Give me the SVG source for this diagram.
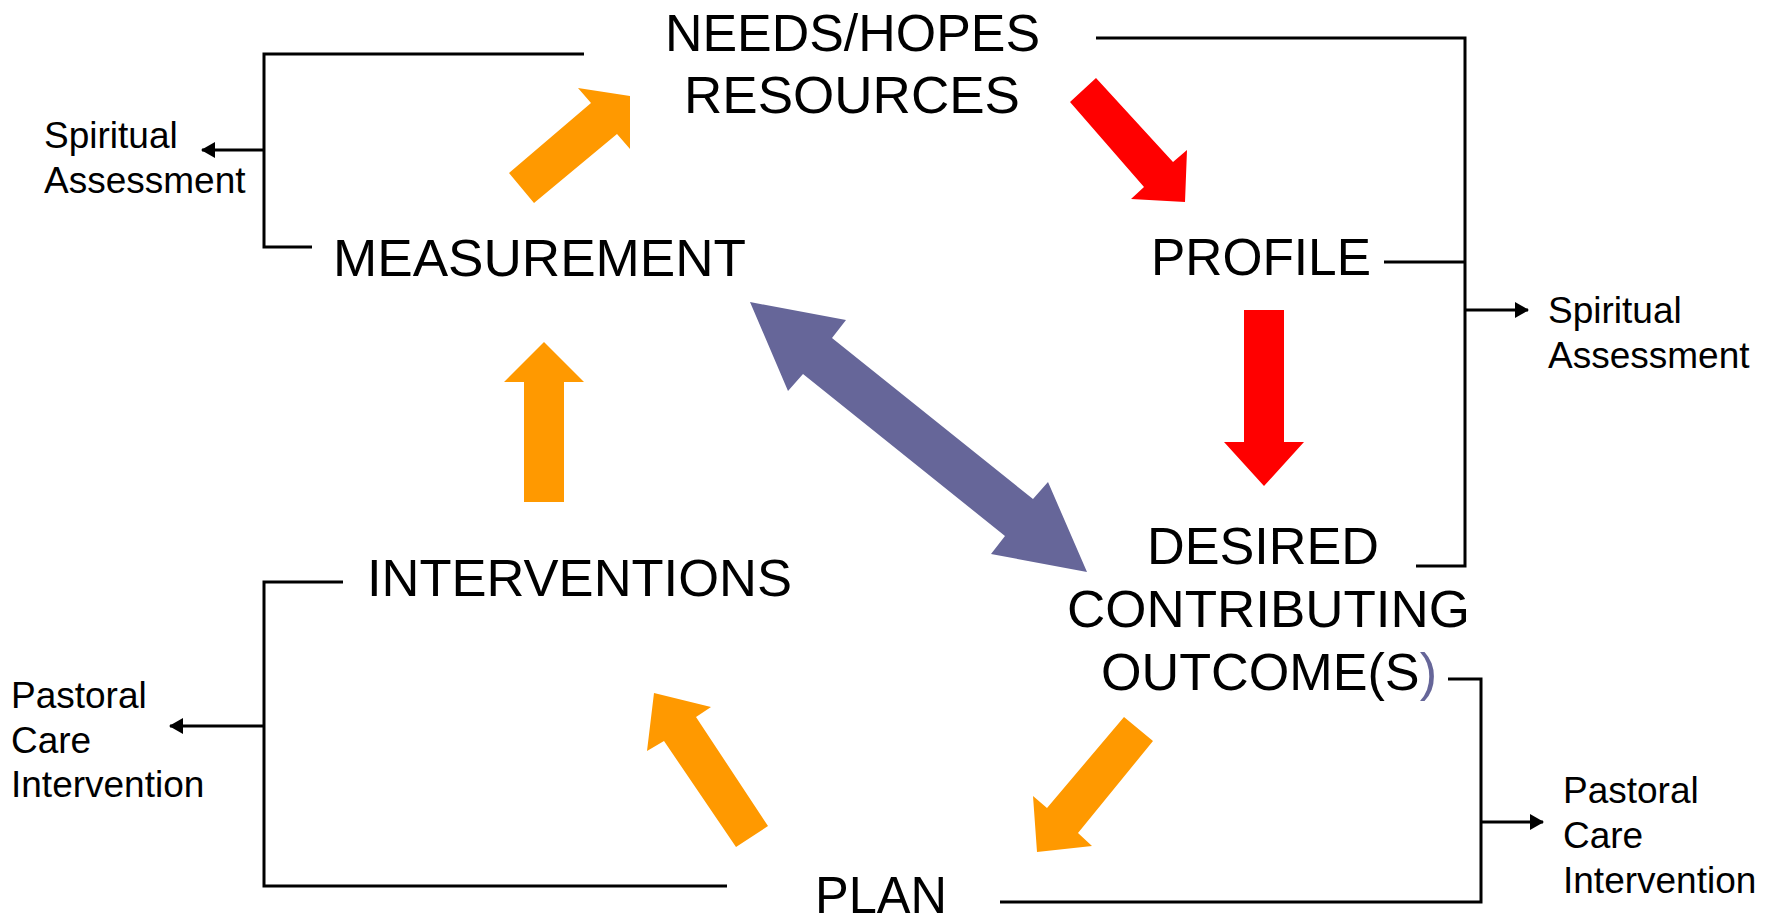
<svg xmlns="http://www.w3.org/2000/svg" width="1773" height="919" viewBox="0 0 1773 919">
  <style>
    .big { font-family: "Liberation Sans", Arial, sans-serif; font-size: 52px; fill: #000; }
    .small { font-family: "Liberation Sans", Arial, sans-serif; font-size: 37px; fill: #000; }
    .line { fill: none; stroke: #000; stroke-width: 3; }
    .orange { fill: #FF9900; }
    .red { fill: #FF0000; }
    .purple { fill: #666699; }
  </style>
  <defs>
    <marker id="tip" viewBox="0 0 14 16" refX="13" refY="8" markerWidth="14" markerHeight="16" markerUnits="userSpaceOnUse" orient="auto">
      <path d="M0,0 L14,8 L0,16 z" fill="#000"/>
    </marker>
  </defs>
  <rect width="1773" height="919" fill="#fff"/>

  <!-- cycle nodes -->
  <g id="node-needs">
    <text class="big" x="665" y="51" textLength="375" lengthAdjust="spacingAndGlyphs">NEEDS/HOPES</text>
    <text class="big" x="684" y="113" textLength="336" lengthAdjust="spacingAndGlyphs">RESOURCES</text>
  </g>
  <g id="node-profile">
    <text class="big" x="1151" y="275" textLength="220" lengthAdjust="spacingAndGlyphs">PROFILE</text>
  </g>
  <g id="node-desired">
    <text class="big" x="1147" y="564" textLength="232" lengthAdjust="spacingAndGlyphs">DESIRED</text>
    <text class="big" x="1067" y="627" textLength="403" lengthAdjust="spacingAndGlyphs">CONTRIBUTING</text>
    <text class="big" x="1101" y="690" textLength="336" lengthAdjust="spacingAndGlyphs">OUTCOME(S<tspan fill="#666699">)</tspan></text>
  </g>
  <g id="node-plan">
    <text class="big" x="815" y="913" textLength="132" lengthAdjust="spacingAndGlyphs">PLAN</text>
  </g>
  <g id="node-interventions">
    <text class="big" x="367" y="596" textLength="425" lengthAdjust="spacingAndGlyphs">INTERVENTIONS</text>
  </g>
  <g id="node-measurement">
    <text class="big" x="333" y="276" textLength="413" lengthAdjust="spacingAndGlyphs">MEASUREMENT</text>
  </g>

  <!-- side labels -->
  <g id="label-spiritual-left">
    <text class="small" x="44" y="148">Spiritual</text>
    <text class="small" x="44" y="193">Assessment</text>
  </g>
  <g id="label-spiritual-right">
    <text class="small" x="1548" y="323">Spiritual</text>
    <text class="small" x="1548" y="368">Assessment</text>
  </g>
  <g id="label-pastoral-left">
    <text class="small" x="11" y="708">Pastoral</text>
    <text class="small" x="11" y="753">Care</text>
    <text class="small" x="11" y="797">Intervention</text>
  </g>
  <g id="label-pastoral-right">
    <text class="small" x="1563" y="803">Pastoral</text>
    <text class="small" x="1563" y="848">Care</text>
    <text class="small" x="1563" y="893">Intervention</text>
  </g>

  <g id="connectors">
    <!-- block arrows of the cycle -->
    <polygon class="orange" points="578,88 630,96 630,149 617,134 534,203 509,173 591,103"/>
    <polygon class="red" points="1096,78 1173,162 1187,150 1185,202 1131,199 1144,187 1070,102"/>
    <polygon class="red" points="1244,310 1284,310 1284,442 1304,442 1264,486 1224,442 1244,442"/>
    <polygon class="orange" points="1124,717 1153,741 1078,833 1092,846 1037,852 1033,796 1047,808"/>
    <polygon class="orange" points="654,693 711,707 696,717 768,826 736,847 664,741 647,751"/>
    <polygon class="orange" points="544,342 584,382 564,382 564,502 524,502 524,382 504,382"/>
    <polygon class="purple" points="750,302 846,320 832,338 1033,499 1048,482 1087,572 991,554 1005,536 803,374 788,391"/>

    <!-- brackets to the side labels -->
    <path class="line" d="M584,54 H264 V247 H312"/>
    <path class="line" d="M264,150 H202" marker-end="url(#tip)"/>
    <path class="line" d="M1096,38 H1465 V566 H1416"/>
    <path class="line" d="M1384,262 H1465"/>
    <path class="line" d="M1465,310 H1528" marker-end="url(#tip)"/>
    <path class="line" d="M343,582 H264 V886 H727"/>
    <path class="line" d="M264,726 H170" marker-end="url(#tip)"/>
    <path class="line" d="M1448,679 H1481 V902 H1000"/>
    <path class="line" d="M1481,822 H1543" marker-end="url(#tip)"/>
  </g>
</svg>
